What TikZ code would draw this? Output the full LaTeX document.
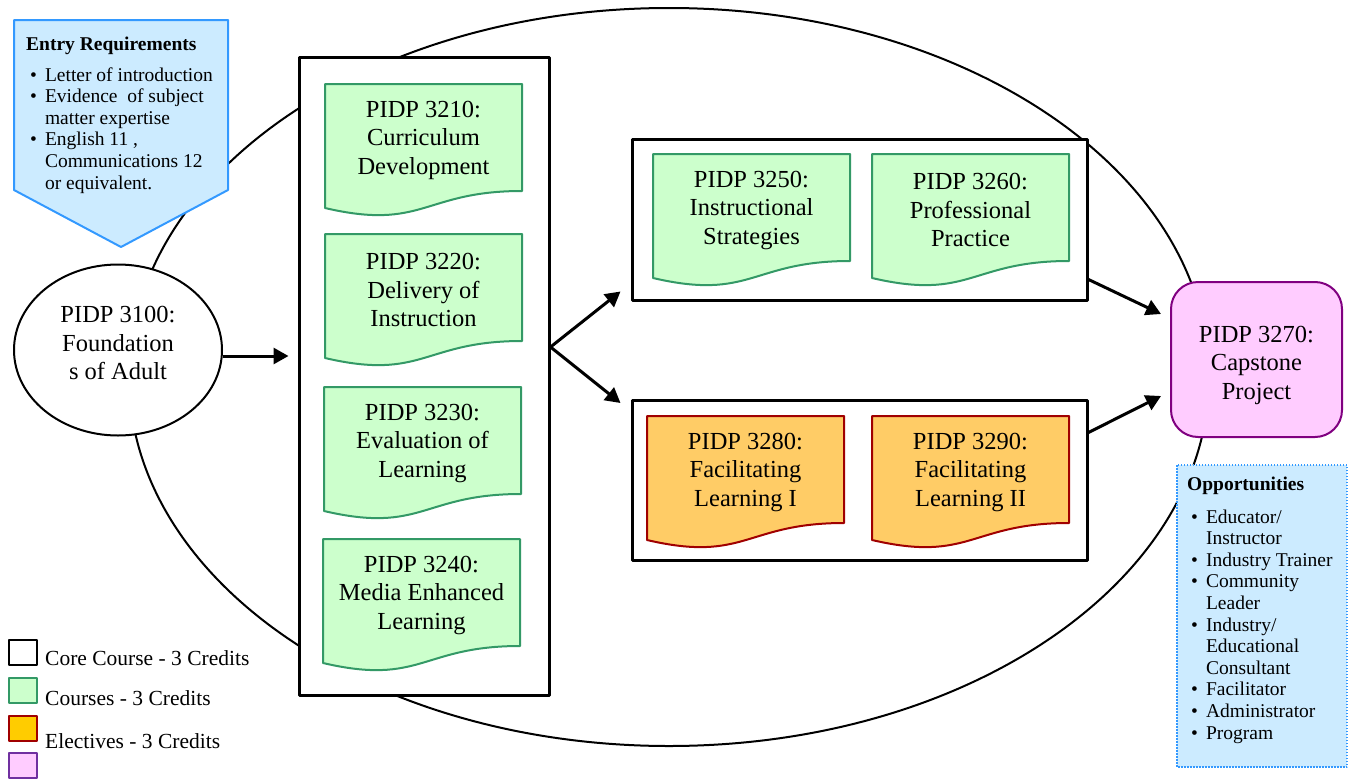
\documentclass[tikz,border=0pt]{standalone}
\usepackage{fontspec}
\setmainfont{Liberation Serif}
\usetikzlibrary{arrows.meta,shapes.geometric}
\definecolor{coursefill}{HTML}{CCFFCC}
\definecolor{courseline}{HTML}{339966}
\definecolor{electfill}{HTML}{FFCC66}
\definecolor{electkey}{HTML}{FFCC00}
\definecolor{electline}{HTML}{A00000}
\definecolor{capfill}{HTML}{FFCCFF}
\definecolor{capline}{HTML}{800080}
\definecolor{keypurple}{HTML}{7030A0}
\definecolor{infofill}{HTML}{CCEBFF}
\definecolor{infoline}{HTML}{3399FF}
\newcommand{\bigtxt}{\fontsize{24.5}{28.5}\selectfont}
\newcommand{\smalltxt}{\fontsize{19.5}{21.6}\selectfont}
\newcommand{\keytxt}{\fontsize{21.5}{24}\selectfont}
\newcommand{\docshape}[5]{%
  \begin{scope}[shift={(#2,#3)}]
    \draw[#4] (0,0) -- (197,0) -- (197,107) .. controls (98.5,107) and (98.5,147) .. (0,124) -- cycle;
    \node[coursetext] (#1) at (98.5,56) {#5};
  \end{scope}}

\begin{document}
\begin{tikzpicture}[x=1pt,y=-1pt,line join=round,>={Triangle[length=15pt,width=16pt]},
  course/.style={draw=courseline,fill=coursefill,line width=2pt},
  elective/.style={draw=electline,fill=electfill,line width=2pt},
  coursetext/.style={align=center,font=\bigtxt,inner sep=0pt},
  tier/.style={draw,fill=white,line width=3pt,inner sep=0pt},
  arr/.style={->,line width=3pt},
  keybox/.style={minimum width=28pt,minimum height=25pt,inner sep=0pt,line width=2pt},
  keytext/.style={anchor=base west,font=\keytxt,inner sep=0pt},
  infotext/.style={anchor=base west,font=\smalltxt,inner sep=0pt}]
  \useasboundingbox (0,0) rectangle (1351,779);
  \draw[line width=2pt] (669,377) ellipse [x radius=540, y radius=369];

  \node[tier,minimum width=250pt,minimum height=638pt] (core) at (424,376) {};
  \node[tier,minimum width=455pt,minimum height=161pt] (upper) at (859.5,219.5) {};
  \node[tier,minimum width=455pt,minimum height=160pt] (lower) at (859.5,480) {};

  \docshape{c3210}{325}{84}{course}{PIDP 3210:\\Curriculum\\Development}
  \docshape{c3220}{325}{234}{course}{PIDP 3220:\\Delivery of\\Instruction}
  \docshape{c3230}{324}{387}{course}{PIDP 3230:\\Evaluation of\\Learning}
  \docshape{c3240}{323}{539}{course}{PIDP 3240:\\Media Enhanced\\Learning}
  \docshape{c3250}{653}{154}{course}{PIDP 3250:\\Instructional\\Strategies}
  \docshape{c3260}{872}{154}{course}{PIDP 3260:\\Professional\\Practice}
  \docshape{c3280}{647}{416}{elective}{PIDP 3280:\\Facilitating\\Learning I}
  \docshape{c3290}{872}{416}{elective}{PIDP 3290:\\Facilitating\\Learning II}

  \node[ellipse,draw,fill=white,line width=2pt,minimum width=208pt,minimum height=171pt,inner sep=0pt] (found) at (118,350) {};
  \node[coursetext] (foundtxt) at (118,343) {PIDP 3100:\\Foundation\\s of Adult};
  \node[draw=capline,fill=capfill,line width=2pt,rounded corners=27pt,minimum width=171pt,minimum height=155pt] (cap) at (1256.5,359.5) {};
  \node[coursetext] (captxt) at (1256.5,365) {PIDP 3270:\\Capstone\\Project};

  \coordinate (footarrow) at ([yshift=-6pt]found.east);
  \coordinate (split) at ([yshift=29pt]core.east);
  \draw[arr,shorten >=9pt] (footarrow) -- (footarrow -| core.west);
  \draw[arr] (split) -- ([xshift=-10pt,yshift=10pt]upper.south west);
  \draw[arr] (split) -- ([xshift=-10pt,yshift=-4.5pt]lower.north west);
  \draw[arr] ([yshift=22pt]upper.south east) -- ([xshift=-9pt,yshift=-33pt]cap.north west);
  \draw[arr] ([yshift=-34pt]lower.north east) -- ([xshift=-9pt,yshift=42pt]cap.south west);

  \draw[draw=infoline,fill=infofill,line width=2pt] (14,20) -- (228,20) -- (228,190) -- (121,247) -- (14,190) -- cycle;
  \node[infotext,font=\smalltxt\bfseries] (entryhead) at (26,50) {Entry Requirements};
  \node[infotext] (entrylist) at (30,81) {\begin{tabular}[t]{@{}l@{\hspace{8pt}}l@{}}
    \textbullet & Letter of introduction\\
    \textbullet & Evidence~ of subject\\
     & matter expertise\\
    \textbullet & English 11 ,\\
     & Communications 12\\
     & or equivalent.
  \end{tabular}};

  \draw[draw=infoline,fill=infofill,line width=1.5pt,dash pattern=on 1.5pt off 1.5pt] (1177,465) rectangle (1347,767);
  \node[infotext,font=\smalltxt\bfseries] (opphead) at (1187,490) {Opportunities};
  \node[infotext] (opplist) at (1191,523) {\begin{tabular}[t]{@{}l@{\hspace{8pt}}l@{}}
    \textbullet & Educator/\\
     & Instructor\\
    \textbullet & Industry Trainer\\
    \textbullet & Community\\
     & Leader\\
    \textbullet & Industry/\\
     & Educational\\
     & Consultant\\
    \textbullet & Facilitator\\
    \textbullet & Administrator\\
    \textbullet & Program
  \end{tabular}};

  \node[keybox,draw,line width=2.5pt] (keycore) at (23,652.5) {};
  \node[keybox,draw=courseline,fill=coursefill] (keycourse) at (23,690.5) {};
  \node[keybox,draw=electline,fill=electkey] (keyelect) at (23,728.5) {};
  \node[keybox,draw=keypurple,fill=capfill] (keycap) at (23,765.5) {};
  \node[keytext] (keycoretxt) at (45,665) {Core Course - 3 Credits};
  \node[keytext] (keycoursetxt) at (45,705) {Courses - 3 Credits};
  \node[keytext] (keyelecttxt) at (45,748) {Electives - 3 Credits};
\end{tikzpicture}
\end{document}
